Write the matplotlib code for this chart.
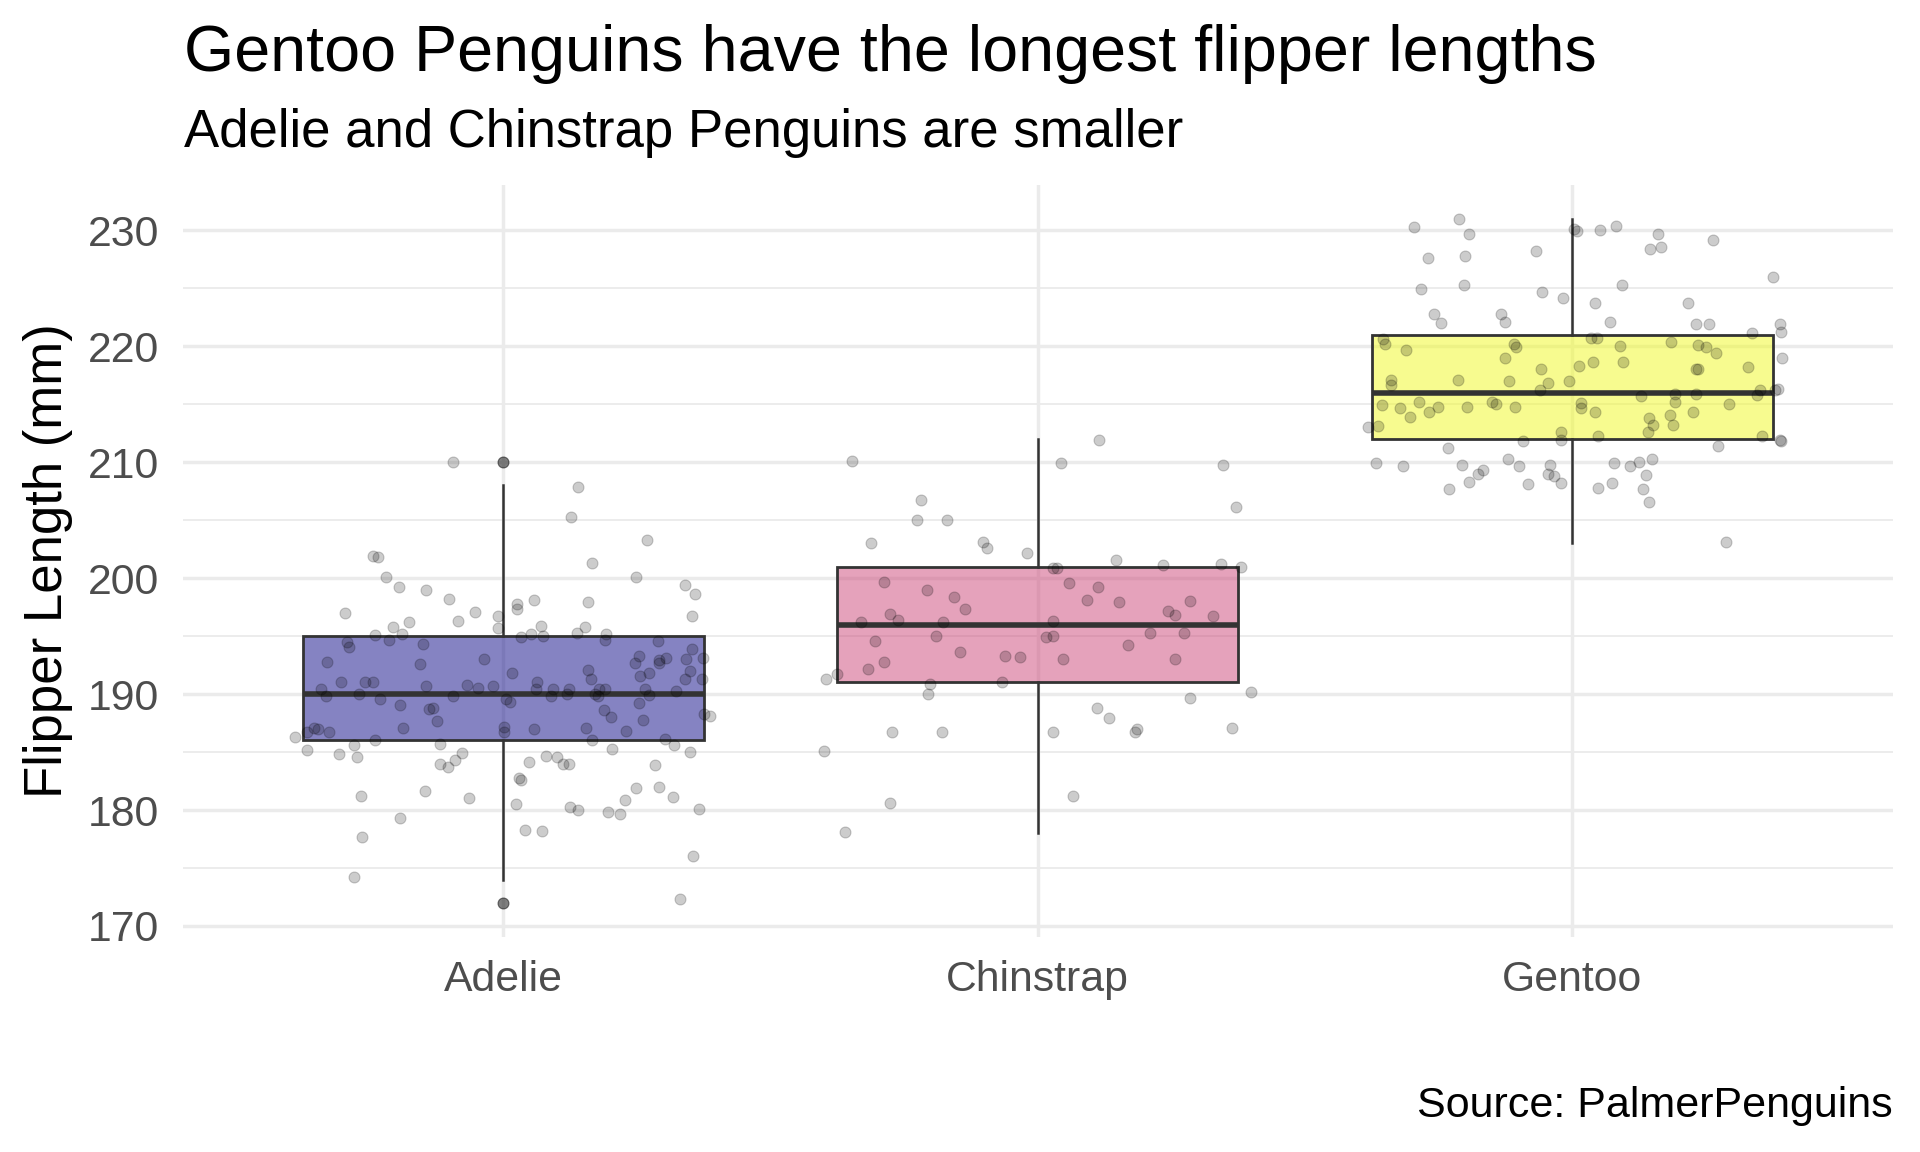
import matplotlib
matplotlib.use("Agg")
import matplotlib.pyplot as plt
import numpy as np

plt.rcParams['font.family'] = ['Liberation Sans', 'DejaVu Sans']

# ---------------- data ----------------
species = ["Adelie", "Chinstrap", "Gentoo"]
box_fill = ["#0D0887", "#CC4678", "#F0F921"]

# box statistics
q1 = [186, 191, 212]
median = [190, 196, 216]
q3 = [195, 201, 221]
whisker_low = [174, 178, 203]
whisker_high = [208, 212, 231]
outliers = [[210, 172], [], []]

# jittered points: horizontal offset (category units) and flipper length
adelie_dx = [-0.095, 0.140, 0.126, 0.268, -0.243, -0.235, 0.166, -0.219, 0.248, -0.195,
             -0.144, 0.340, 0.358, -0.101, 0.057, 0.025, 0.025, 0.159, -0.296, -0.053,
             -0.085, -0.009, -0.009, 0.353, -0.207, -0.176, 0.070, 0.152, -0.240, -0.189,
             0.052, 0.074, 0.033, 0.138, 0.193, 0.190,
             -0.292, -0.289, -0.213, -0.151, 0.289, 0.353, -0.330, -0.155, -0.037, 0.253,
             0.246, 0.292, 0.304, 0.292, 0.341, 0.374, 0.350, 0.158, 0.164, 0.017,
             0.256, 0.273, 0.340, 0.371, -0.304, -0.259, -0.243, 0.063, -0.144, -0.068,
             -0.020, -0.341, -0.048, 0.062, 0.093, 0.122, 0.179, 0.190, 0.266, 0.324,
             -0.332, -0.270, -0.231, -0.094, 0.005, 0.012, 0.090, 0.119, 0.171, 0.177,
             0.273, -0.193, -0.139, -0.132, 0.254, 0.188, 0.202, 0.375, 0.386, 0.261,
             -0.124, -0.355, -0.347, -0.367, -0.327, -0.187, 0.002, 0.001, 0.058, 0.155,
             0.230, -0.390, -0.240, 0.166, 0.302, -0.279, -0.118, 0.320, -0.368, 0.203,
             0.349, -0.308, -0.274, -0.078, -0.090, -0.119, -0.103, 0.080, 0.101, 0.111,
             0.122, 0.048, 0.284, 0.030, 0.034, 0.249, 0.291, -0.266, -0.146, -0.065,
             0.228, 0.318, 0.024, 0.125, 0.139, 0.196, 0.219, 0.367, -0.194, 0.040,
             0.072, -0.265, 0.355, -0.280, 0.330]
adelie_y = [210.0, 207.9, 205.3, 203.3, 201.9, 201.8, 201.3, 200.1, 200.1, 199.2,
            199.0, 199.4, 198.6, 198.2, 198.1, 197.8, 197.3, 197.9, 197.0, 197.1,
            196.3, 196.7, 195.7, 196.7, 195.8, 196.2, 195.9, 195.8, 195.1, 195.2,
            195.2, 195.0, 194.9, 195.3, 195.2, 194.7,
            194.5, 194.1, 194.7, 194.3, 194.6, 193.9, 192.8, 192.6, 193.0, 193.3,
            192.7, 192.9, 193.1, 192.7, 193.0, 193.1, 192.0, 192.1, 191.3, 191.8,
            191.6, 191.8, 191.3, 191.3, 191.0, 191.0, 191.0, 191.0, 190.7, 190.8,
            190.7, 190.4, 190.5, 190.4, 190.4, 190.4, 190.4, 190.4, 190.4, 190.3,
            189.8, 190.0, 189.6, 189.8, 189.6, 189.3, 189.8, 190.0, 190.0, 189.8,
            189.9, 189.1, 188.7, 188.8, 189.2, 188.6, 188.0, 188.3, 188.1, 187.8,
            187.7, 187.1, 187.0, 186.7, 186.7, 187.1, 187.2, 186.7, 187.0, 187.1,
            186.8, 186.3, 186.0, 186.0, 186.1, 185.6, 185.7, 185.6, 185.2, 185.3,
            185.0, 184.8, 184.6, 184.9, 184.3, 184.0, 183.7, 184.7, 184.6, 184.0,
            184.0, 184.1, 183.9, 182.8, 182.6, 181.9, 182.0, 181.2, 181.6, 181.0,
            180.9, 181.1, 180.5, 180.3, 180.0, 179.8, 179.7, 180.1, 179.3, 178.3,
            178.2, 177.7, 176.0, 174.2, 172.3]

chinstrap_dx = [-0.347, 0.114, 0.044, 0.347, -0.218, 0.371, -0.226, -0.170, -0.313, -0.102,
                -0.095, -0.020, 0.146, 0.234, 0.342, 0.381, 0.028, 0.035, -0.287, -0.208,
                -0.157, -0.137, 0.059, 0.112, 0.092, 0.151, 0.285, 0.243, 0.256, 0.327,
                -0.276, -0.261, -0.330, -0.177, 0.028, -0.304, -0.190, 0.016, 0.029, 0.209,
                0.274, 0.168, -0.145, -0.062, -0.034, -0.287, 0.047, 0.257, -0.317,
                -0.396, -0.375, -0.201, -0.206, -0.067, 0.399, 0.285, 0.110, 0.134, 0.181,
                0.186, 0.363, -0.272, -0.180, 0.028, -0.400, 0.066, -0.276, -0.360]
chinstrap_y = [210.1, 211.9, 209.9, 209.8, 206.7, 206.1, 205.0, 205.0, 203.0, 203.1,
               202.6, 202.2, 201.6, 201.1, 201.2, 201.0, 200.9, 200.9, 199.7, 199.0,
               198.4, 197.3, 199.6, 199.2, 198.1, 197.9, 198.0, 197.2, 196.8, 196.7,
               196.9, 196.4, 196.2, 196.2, 196.3, 194.6, 195.0, 194.9, 195.0, 195.3,
               195.3, 194.2, 193.6, 193.3, 193.2, 192.8, 193.0, 193.0, 192.2,
               191.3, 191.7, 190.9, 190.0, 191.0, 190.2, 189.7, 188.8, 187.9, 186.7,
               187.0, 187.1, 186.7, 186.7, 186.7, 185.1, 181.2, 180.6, 178.1]

gentoo_dx = [-0.212, -0.296, -0.194, 0.003, 0.008, 0.052, 0.081, 0.160, 0.166, 0.146,
             0.263, -0.270, -0.200, -0.068, 0.376, -0.283, -0.203, -0.057, -0.018, 0.093,
             0.042, 0.217, -0.258, -0.245, -0.134, -0.126, 0.071, 0.231, 0.256, 0.388,
             0.391, 0.337, 0.035, 0.046, -0.355, -0.351, -0.312, -0.110, -0.106, 0.090,
             0.185, 0.235, 0.251, 0.269, -0.126, 0.039, 0.094, 0.013, -0.058, 0.231,
             0.236, 0.329, 0.393, -0.339, -0.214, -0.119, -0.045, -0.006,
             -0.339, -0.060, 0.352, 0.346, 0.380, 0.385, 0.128, 0.192, 0.192, 0.232,
             -0.356, -0.322, -0.286, -0.251, -0.304, -0.268, -0.197, -0.151, -0.143, -0.108,
             0.016, 0.017, 0.042, 0.143, 0.151, 0.142, 0.182, 0.188, 0.225, 0.294,
             -0.382, -0.364, -0.021, -0.021, 0.049, 0.354, 0.388, 0.391, -0.092, -0.232,
             0.273, -0.368, -0.317, -0.207, -0.121, -0.100, -0.042, -0.168, -0.176, -0.193,
             -0.230, -0.045, -0.035, -0.021, -0.082, 0.078, 0.108, 0.125, 0.150, 0.137,
             0.075, 0.049, 0.133, 0.144, 0.288]
gentoo_y = [231.0, 230.3, 229.7, 230.1, 229.9, 230.0, 230.4, 229.7, 228.6, 228.4,
            229.2, 227.6, 227.8, 228.2, 226.0, 224.9, 225.3, 224.7, 224.2, 225.3,
            223.7, 223.7, 222.8, 222.0, 222.8, 222.1, 222.1, 221.9, 221.9, 221.9,
            221.2, 221.1, 220.7, 220.7, 220.6, 220.2, 219.7, 220.2, 219.9, 220.0,
            220.4, 220.1, 219.9, 219.4, 219.0, 218.6, 218.6, 218.3, 218.0, 218.0,
            218.0, 218.2, 219.0, 217.1, 217.1, 217.0, 216.8, 217.0,
            216.7, 216.2, 216.2, 215.8, 216.2, 216.3, 215.7, 215.9, 215.2, 215.9,
            214.9, 214.7, 215.2, 214.8, 213.9, 214.3, 214.8, 215.2, 215.0, 214.8,
            215.1, 214.7, 214.3, 213.8, 213.2, 212.6, 214.1, 213.2, 214.3, 215.0,
            213.0, 213.1, 212.6, 211.9, 212.3, 212.3, 211.9, 211.8, 211.8, 211.2,
            211.4, 209.9, 209.7, 209.8, 210.3, 209.7, 209.8, 209.3, 209.0, 208.3,
            207.7, 209.0, 208.8, 208.2, 208.1, 209.9, 209.7, 210.0, 210.3, 208.9,
            208.2, 207.8, 207.7, 206.6, 203.1]

y_ticks = [170, 180, 190, 200, 210, 220, 230]
y_minor = [175, 185, 195, 205, 215, 225]

title = "Gentoo Penguins have the longest flipper lengths"
subtitle = "Adelie and Chinstrap Penguins are smaller"
y_label = "Flipper Length (mm)"
caption = "Source: PalmerPenguins"

# ---------------- figure ----------------
W, H = 1920, 1152
fig = plt.figure(figsize=(W / 100, H / 100), dpi=100)
fig.patch.set_facecolor("white")

left, right, top, bottom = 182.6, 1893.0, 184.5, 937.0
ax = fig.add_axes([left / W, 1 - bottom / H, (right - left) / W, (bottom - top) / H])
ax.set_facecolor("white")
for s in ax.spines.values():
    s.set_visible(False)

ax.set_xlim(0.4, 3.6)
ax.set_ylim(169.05, 233.95)

grid_col = "#EBEBEB"
for v in y_ticks:
    ax.axhline(v, color=grid_col, lw=2.5, zorder=0)
for v in y_minor:
    ax.axhline(v, color=grid_col, lw=1.3, zorder=0)
positions = [1, 2, 3]
for p in positions:
    ax.axvline(p, color=grid_col, lw=2.5, zorder=0)

# boxes
stats = []
for i in range(3):
    stats.append(dict(q1=q1[i], med=median[i], q3=q3[i],
                      whislo=whisker_low[i], whishi=whisker_high[i], fliers=[]))
edge = "#333333"
bp = ax.bxp(stats, positions=positions, widths=0.75, patch_artist=True,
            showcaps=False, showfliers=False,
            boxprops=dict(edgecolor=edge, linewidth=2.0),
            whiskerprops=dict(color=edge, linewidth=1.8),
            medianprops=dict(color=edge, linewidth=4.0, solid_capstyle="butt"),
            zorder=2)
for patch, c in zip(bp["boxes"], box_fill):
    patch.set_facecolor(matplotlib.colors.to_rgba(c, 0.5))

# outliers
for p, outs in zip(positions, outliers):
    if outs:
        ax.scatter([p] * len(outs), outs, s=62, facecolor=(0, 0, 0, 0.5),
                   edgecolor=(0, 0, 0, 0.5), linewidths=0.8, zorder=3)

# jittered points
groups = [(adelie_dx, adelie_y), (chinstrap_dx, chinstrap_y), (gentoo_dx, gentoo_y)]
for p, (dx, yy) in zip(positions, groups):
    xs = p + np.asarray(dx)
    ax.scatter(xs, yy, s=62, facecolor=(0, 0, 0, 0.2), edgecolor=(0, 0, 0, 0.2),
               linewidths=0.8, zorder=4)

# ticks
ax.set_yticks(y_ticks)
ax.set_yticklabels([str(v) for v in y_ticks])
ax.set_xticks(positions)
ax.set_xticklabels(species)
ax.tick_params(axis="both", length=0, labelsize=30.8, labelcolor="#4D4D4D")
ax.tick_params(axis="y", pad=17)
ax.tick_params(axis="x", pad=16.5)

# texts
fig.text(184.0 / W, 1 - 71 / H, title, fontsize=46.5, color="black",
         ha="left", va="baseline")
fig.text(184.0 / W, 1 - 146.7 / H, subtitle, fontsize=38.0, color="black",
         ha="left", va="baseline")
fig.text(61.7 / W, 1 - 560.7 / H, y_label, fontsize=38.0, color="black",
         rotation=90, ha="center", va="baseline", rotation_mode="anchor")
fig.text(1893 / W, 1 - 1117 / H, caption, fontsize=31, color="black",
         ha="right", va="baseline")

fig.savefig("out.png", dpi=100, facecolor="white")
